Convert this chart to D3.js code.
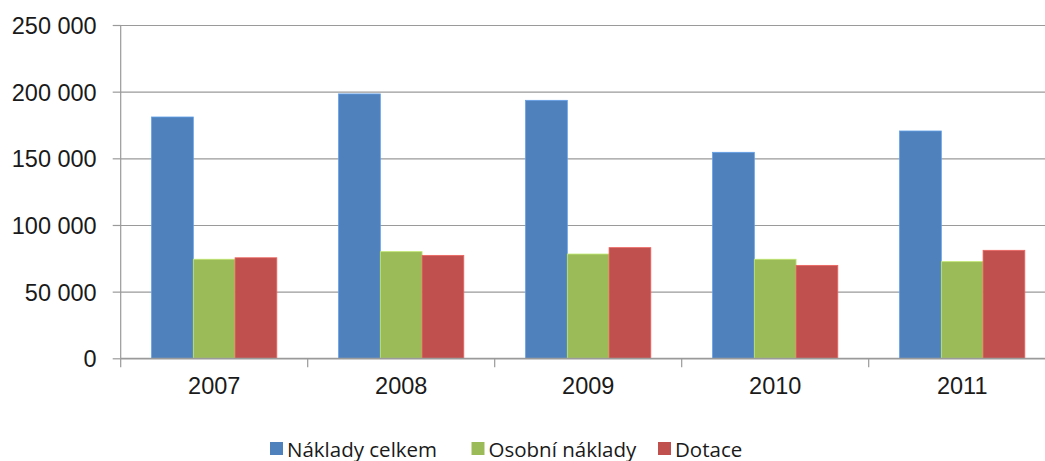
<!DOCTYPE html>
<html lang="cs">
<head>
  <meta charset="UTF-8">
  <title>Náklady a dotace</title>
  <script src="https://d3js.org/d3.v7.min.js"></script>
  <style>
    body { margin: 0; background: #fff; }
    svg { display: block; font-family: "Open Sans", "Liberation Sans", sans-serif; }
    .grid line { stroke: #9a9a9a; stroke-width: 1.2px; }
    .grid .domain { display: none; }
    .axis text { fill: #1a1a1a; font-size: 23.5px; }
    .axis line, .axis .domain { stroke: #9a9a9a; stroke-width: 1.2px; }
    .legend text { fill: #1a1a1a; font-size: 20.5px; }
  </style>
</head>
<body>
<svg width="1045" height="461"></svg>
<script>
  // data
  const years = ["2007", "2008", "2009", "2010", "2011"];
  const series = ["Náklady celkem", "Osobní náklady", "Dotace"];
  const nakladyCelkem = [181000, 198300, 193500, 154500, 170500];
  const osobniNaklady = [74300, 80000, 78200, 74300, 72500];
  const dotace = [75400, 77200, 83000, 69700, 81000];
  const yTicks = [0, 50000, 100000, 150000, 200000, 250000];
  const colors = ["#4F81BD", "#9BBB59", "#C0504D"];

  const values = [nakladyCelkem, osobniNaklady, dotace];

  const svg = d3.select("svg");
  const plotLeft = 120.7, plotTop = 25, plotBottom = 358.3;
  const step = 187;

  const x0 = d3.scaleBand()
    .domain(years)
    .range([plotLeft, plotLeft + step * years.length])
    .padding(0);

  const x1 = d3.scaleBand()
    .domain(series)
    .range([0, x0.bandwidth()])
    .paddingInner(0)
    .paddingOuter(0.74);

  const y = d3.scaleLinear()
    .domain([0, 250000])
    .range([plotBottom, plotTop]);

  const fmt = v => d3.format(",")(v).replace(/,/g, " ");

  // gridlines
  svg.append("g")
    .attr("class", "grid")
    .attr("transform", `translate(${plotLeft},0)`)
    .call(d3.axisLeft(y).tickValues(yTicks).tickSize(-(1045 - plotLeft)).tickFormat(""));

  // bars
  series.forEach((s, si) => {
    svg.append("g")
      .selectAll("rect")
      .data(years.map((yr, i) => ({ yr, v: values[si][i] })))
      .join("rect")
      .attr("x", d => x0(d.yr) + x1(s))
      .attr("y", d => y(d.v))
      .attr("width", x1.bandwidth())
      .attr("height", d => y(0) - y(d.v))
      .attr("fill", colors[si])
      .attr("stroke", d3.color(colors[si]).brighter(0.6))
      .attr("stroke-width", 0.8);
  });

  // y axis
  const yAxis = svg.append("g")
    .attr("class", "axis")
    .attr("transform", `translate(${plotLeft},0)`)
    .call(d3.axisLeft(y).tickValues(yTicks).tickSize(8).tickPadding(16).tickFormat(fmt));
  yAxis.select(".domain").attr("d", `M0,${plotTop}V${plotBottom}`);
  yAxis.selectAll("text").attr("dy", "0.36em");

  // x axis
  const xAxis = svg.append("g")
    .attr("class", "axis")
    .attr("transform", `translate(0,${plotBottom})`)
    .call(d3.axisBottom(x0).tickSize(0).tickPadding(19));
  xAxis.select(".domain").attr("d", `M${plotLeft},0H1045`);
  xAxis.selectAll(".tick text").attr("dy", "0.71em");
  // tick marks between categories
  xAxis.selectAll("line.sep")
    .data(years.map(yr => x0(yr)))
    .join("line")
    .attr("class", "sep")
    .attr("x1", d => d).attr("x2", d => d)
    .attr("y1", 0).attr("y2", 9);

  // legend
  const legendX = [270, 471.5, 658];
  const legend = svg.append("g").attr("class", "legend");
  const item = legend.selectAll("g")
    .data(series)
    .join("g")
    .attr("transform", (d, i) => `translate(${legendX[i]},442)`);
  item.append("rect")
    .attr("width", 13).attr("height", 13)
    .attr("fill", (d, i) => colors[i]);
  item.append("text")
    .attr("x", 17).attr("y", 14.5)
    .text(d => d);
</script>
</body>
</html>
